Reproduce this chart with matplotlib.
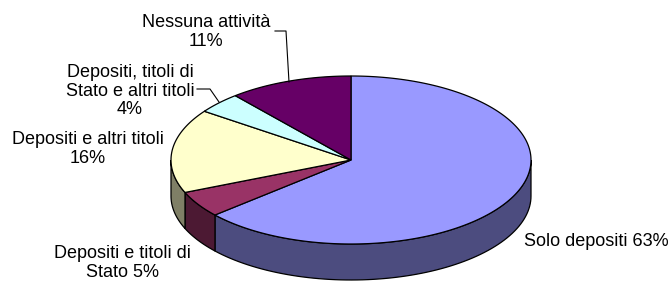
import numpy as np
import matplotlib
matplotlib.use("Agg")
import matplotlib.pyplot as plt
from matplotlib.patches import Polygon

labels = [
    "Solo depositi 63%",
    "Depositi e titoli di\nStato 5%",
    "Depositi e altri titoli\n16%",
    "Depositi, titoli di\nStato e altri titoli\n4%",
    "Nessuna attività\n11%",
]
values = [63, 5, 16, 4, 11]
top_colors = ["#9999FF", "#993366", "#FFFFCC", "#CCFFFF", "#660066"]
side_colors = ["#4C4C7F", "#4C1933", "#7F7F66", "#667F7F", "#330033"]

# ellipse geometry in pixel coords
cx, cy, rx, ry, depth = 351, 160, 180, 84, 36


def pt(t, dy=0.0):
    return cx + rx * np.cos(np.radians(t)), cy - ry * np.sin(np.radians(t)) + dy


fig = plt.figure(figsize=(6.71, 2.81), dpi=100)
ax = fig.add_axes([0, 0, 1, 1])
ax.set_xlim(0, 671)
ax.set_ylim(281, 0)
ax.axis("off")
plt.rcParams["font.family"] = ["Liberation Sans", "DejaVu Sans"]

total = sum(values)
angles = [90.0]
for v in values:
    angles.append(angles[-1] - v / total * 360.0)

# side walls (front half only: 180..360 deg)
for i in range(len(values)):
    a0, a1 = angles[i + 1], angles[i]
    a0n, a1n = a0 % 360, a1 % 360
    if a1n < a0n:
        a1n += 360
    lo, hi = max(a0n, 180), min(a1n, 360)
    if a0 < -90 and a1 > -90:
        lo, hi = max(a0 + 360, 180), 360
    if hi <= lo:
        continue
    ts = np.linspace(lo, hi, 80)
    top = [pt(t) for t in ts]
    bot = [pt(t, depth) for t in ts[::-1]]
    ax.add_patch(Polygon(top + bot, closed=True, facecolor=side_colors[i],
                         edgecolor="black", lw=0.9, zorder=1))

# top faces
for i in range(len(values)):
    ts = np.linspace(angles[i + 1], angles[i], 200)
    poly = [(cx, cy)] + [pt(t) for t in ts]
    ax.add_patch(Polygon(poly, closed=True, facecolor=top_colors[i],
                         edgecolor="black", lw=0.9, zorder=2))

fs = 13
ls = 1.15
ax.text(596, 242, labels[0], ha="center", va="center", fontsize=fs)
ax.text(122, 263, labels[1], ha="center", va="center", fontsize=fs, linespacing=ls)
ax.text(88, 149, labels[2], ha="center", va="center", fontsize=fs, linespacing=ls)
ax.text(130, 91, labels[3], ha="center", va="center", fontsize=fs, linespacing=ls)
ax.text(206, 32, labels[4], ha="center", va="center", fontsize=fs, linespacing=ls)

# leader lines
ax.plot([197, 210, 219], [89, 89, 102], color="black", lw=0.8, zorder=3)
ax.plot([275, 286, 289], [31, 31, 82], color="black", lw=0.8, zorder=3)

fig.savefig("out.png", dpi=100)
